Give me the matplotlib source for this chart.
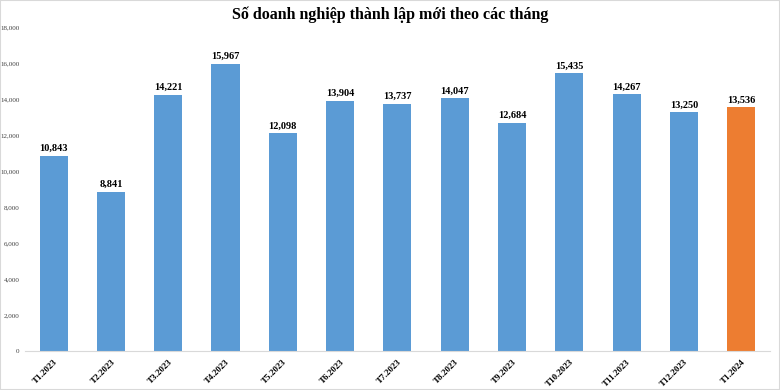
import matplotlib.pyplot as plt

months = ["T1.2023", "T2.2023", "T3.2023", "T4.2023", "T5.2023", "T6.2023", "T7.2023",
          "T8.2023", "T9.2023", "T10.2023", "T11.2023", "T12.2023", "T1.2024"]
values = [10843, 8841, 14221, 15967, 12098, 13904, 13737, 14047, 12684, 15435, 14267, 13250, 13536]
colors = ["#5b9bd5"] * 12 + ["#ed7d31"]

plt.rcParams['font.family'] = ['Liberation Serif', 'DejaVu Serif']

fig = plt.figure(figsize=(7.8, 3.9), dpi=100)
ax = fig.add_axes([0.032, 0.1, 0.955, 0.831])

x = range(len(months))
bars = ax.bar(x, values, width=0.49, color=colors)
for xi, v in zip(x, values):
    ax.text(xi, v + 150, f"{v:,}", ha='center', va='bottom', fontsize=7.5, fontweight='bold')

ax.set_xlim(-0.5, len(months) - 0.5)
ax.set_ylim(0, 18000)
ax.set_yticks(range(0, 18001, 2000))
ax.set_yticklabels([f"{t:,}" for t in range(0, 18001, 2000)], fontsize=5, color='#404040')
ax.set_xticks(list(x))
ax.set_xticklabels(months, rotation=45, ha='right', rotation_mode='anchor', fontsize=6.5, fontweight='bold')
ax.tick_params(axis='x', length=0, pad=5)
ax.tick_params(axis='y', length=0, pad=4)
for s in ['top', 'right', 'left']:
    ax.spines[s].set_visible(False)
ax.spines['bottom'].set_color('#d9d9d9')

fig.text(0.5, 0.962, "Số doanh nghiệp thành lập mới theo các tháng", ha='center', va='center',
         fontsize=11.5, fontweight='bold')

border = plt.Rectangle((0, 0), 1, 1, transform=fig.transFigure, fill=False, edgecolor='#d9d9d9', lw=1.5)
fig.add_artist(border)

fig.savefig("out.png", dpi=100)
